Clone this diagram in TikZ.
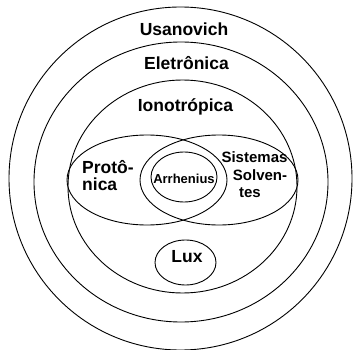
\documentclass[tikz,border=0pt]{standalone}
\usepackage{fontspec}
\setmainfont{Liberation Sans}
\usetikzlibrary{shapes.geometric}
\begin{document}
\begin{tikzpicture}[x=1pt,y=-1pt,
  ring/.style={draw, ellipse, line width=0.9pt, inner sep=0pt},
  lbl/.style={font=\bfseries\fontsize{17.5}{17.5}\selectfont, inner sep=0pt, anchor=base},
  lblsmall/.style={font=\bfseries\fontsize{15}{15}\selectfont, inner sep=0pt, anchor=base},
  lbltiny/.style={font=\bfseries\fontsize{13}{13}\selectfont, inner sep=0pt, anchor=base}]
\useasboundingbox (0,0) rectangle (353,350);
% rings
\node[ring, minimum width=343pt, minimum height=343pt] (usan) at (180.5,178.5) {};
\node[ring, minimum width=294pt, minimum height=280pt] (elet) at (181,182) {};
\node[ring, minimum width=229pt, minimum height=213pt] (iono) at (182.5,186.5) {};
\node[ring, minimum width=160pt, minimum height=90pt] (prot) at (147,180) {};
\node[ring, minimum width=158pt, minimum height=90pt] (sist) at (219,180) {};
\node[ring, minimum width=66pt, minimum height=50pt] (arrh) at (184,177) {};
\node[ring, minimum width=61pt, minimum height=45pt] (lux) at (185.5,262.5) {};
% labels
\node[lbl] (tusan) at (184,36) {Usanovich};
\node[lbl] (telet) at (186.5,70) {Eletrônica};
\node[lbl] (tiono) at (185.5,111) {Ionotrópica};
\node[lbl, anchor=base west] (tprot1) at (82,173) {Protô-};
\node[lbl, anchor=base west] (tprot2) at (82,190) {nica};
\node[lblsmall] (tsist1) at (254.5,162) {Sistemas};
\node[lblsmall] (tsist2) at (260,180) {Solven-};
\node[lblsmall] (tsist3) at (250,197) {tes};
\node[lbltiny] (tarrh) at (184,183) {Arrhenius};
\node[lbl] (tlux) at (187,262) {Lux};
\end{tikzpicture}
\end{document}
